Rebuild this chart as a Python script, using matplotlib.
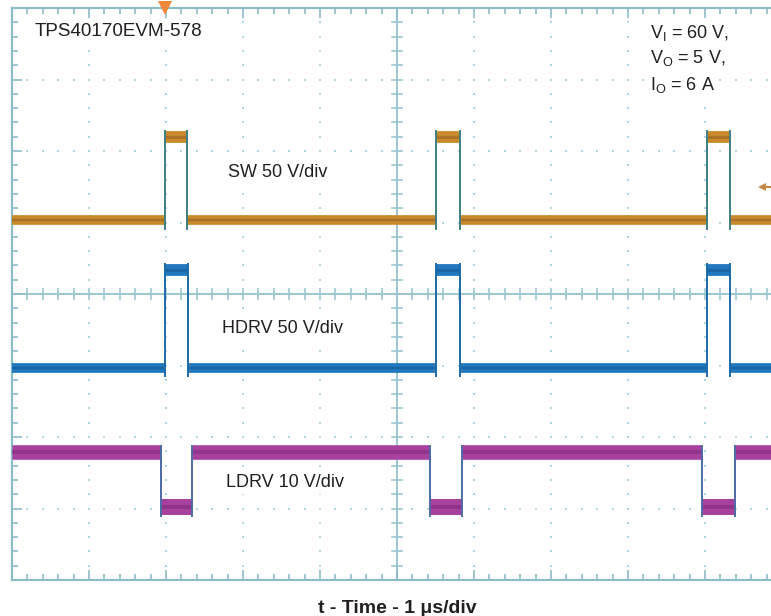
import matplotlib
matplotlib.use("Agg")
import matplotlib.pyplot as plt
import numpy as np
from matplotlib.ticker import MultipleLocator

plt.rcParams['font.family'] = ['Liberation Sans', 'DejaVu Sans']
plt.rcParams['mathtext.fontset'] = 'custom'
plt.rcParams['mathtext.rm'] = 'Liberation Sans'
plt.rcParams['mathtext.it'] = 'Liberation Sans'

# ---- data (time in µs = divisions, level in divisions) ----
sw_rise = [1.99, 5.51, 9.03]
sw_fall = [2.27, 5.82, 9.32]
sw_low, sw_high = 5.03, 6.20

hdrv_rise = [1.99, 5.51, 9.03]
hdrv_fall = [2.29, 5.82, 9.33]
hdrv_low, hdrv_high = 2.97, 4.34

ldrv_fall = [1.94, 5.43, 8.96]
ldrv_rise = [2.34, 5.84, 9.39]
ldrv_high, ldrv_low = 1.79, 1.02

trigger_time = 1.99
trigger_level = 5.50

title_text = "TPS40170EVM-578"
cond_lines = ["V$_\\mathrm{I}$ = 60 V,", "V$_\\mathrm{O}$ = 5 V,", "I$_\\mathrm{O}$ = 6 A"]
trace_labels = ["SW 50 V/div", "HDRV 50 V/div", "LDRV 10 V/div"]
xlabel_text = "t - Time - 1 μs/div"

fig = plt.figure(figsize=(7.71, 6.16), dpi=100)
ax = fig.add_axes([12/771, 36/616, 770/771, 572/616])
ax.set_xlim(0, 10)
ax.set_ylim(0, 8)

frame_c = '#8DBCC8'
for s in ax.spines.values():
    s.set_color(frame_c)
    s.set_linewidth(1.6)
ax.xaxis.set_major_locator(MultipleLocator(1))
ax.yaxis.set_major_locator(MultipleLocator(1))
ax.xaxis.set_minor_locator(MultipleLocator(0.2))
ax.yaxis.set_minor_locator(MultipleLocator(0.2))
ax.tick_params(which='both', direction='in', top=True, right=True, bottom=True, left=True,
               labelbottom=False, labelleft=False, color=frame_c, width=1.2)
ax.tick_params(which='major', length=7)
ax.tick_params(which='minor', length=4)

# dotted grid
sub = np.arange(0, 10.001, 0.2)
subv = np.arange(0, 8.001, 0.2)
grid_c = '#B0D5E6'
for gx in range(1, 10):
    if gx == 5:
        continue
    ax.plot(np.full_like(subv, gx), subv, ls='none', marker='s', ms=1.5, mew=0, color=grid_c, zorder=1)
for gy in range(1, 8):
    if gy == 4:
        continue
    ax.plot(sub, np.full_like(sub, gy), ls='none', marker='s', ms=1.5, mew=0, color=grid_c, zorder=1)

# center axes with cross ticks
axis_c = '#9BC6CF'
ax.axhline(4, color=axis_c, lw=1.4, zorder=1)
ax.axvline(5, color=axis_c, lw=1.4, zorder=1)
for tx in sub:
    ax.plot([tx, tx], [4 - 0.07, 4 + 0.07], color=axis_c, lw=1.2, zorder=1)
for ty in subv:
    ax.plot([5 - 0.065, 5 + 0.065], [ty, ty], color=axis_c, lw=1.2, zorder=1)


def draw_trace(starts, ends, idle, active, idle_lw, active_lw, color, dark, edge_c):
    bounds = [0.0] + [v for pair in zip(starts, ends) for v in pair] + [10.2]
    for i in range(0, len(bounds), 2):
        a, b = bounds[i], bounds[i + 1]
        ax.plot([a, b], [idle, idle], color=color, lw=idle_lw, solid_capstyle='butt', zorder=3)
        ax.plot([a, b], [idle, idle], color=dark, lw=idle_lw * 0.25, alpha=0.5, solid_capstyle='butt', zorder=3)
    for a, b in zip(starts, ends):
        ax.plot([a, b], [active, active], color=color, lw=active_lw, solid_capstyle='butt', zorder=3)
        ax.plot([a, b], [active, active], color=dark, lw=active_lw * 0.25, alpha=0.5, solid_capstyle='butt', zorder=3)
        lo, hi = min(idle, active), max(idle, active)
        for e in (a, b):
            ax.plot([e, e], [lo - 0.12, hi + 0.08], color=edge_c, lw=1.4, zorder=4)


draw_trace(sw_rise, sw_fall, sw_low, sw_high, 7.0, 8.5, '#C98A2C', '#8A5A1C', '#3F7E84')
draw_trace(hdrv_rise, hdrv_fall, hdrv_low, hdrv_high, 7.0, 8.5, '#2178BE', '#14548C', '#1C6AA8')
draw_trace(ldrv_fall, ldrv_rise, ldrv_high, ldrv_low, 10.5, 11.5, '#A8409E', '#7A2A78', '#4E6AA8')

# trigger markers
ax.plot([trigger_time], [8.0], marker='v', ms=10, color='#F0883A', mew=0, clip_on=False, zorder=6)
ax.plot([9.74, 9.9], [trigger_level, trigger_level], color='#C08848', lw=1.5, zorder=5)
ax.plot([9.74], [trigger_level], marker='<', ms=6, color='#C08848', mew=0, zorder=5)

# texts
bb = dict(facecolor='white', edgecolor='none', pad=2)
ax.text(0.30, 7.61, title_text, fontsize=13.6, color='#231F20', ha='left', va='baseline', bbox=bb, zorder=7)
for yv, s in zip([7.58, 7.23, 6.85], cond_lines):
    ax.text(8.29, yv, s, fontsize=13, color='#231F20', ha='left', va='baseline', bbox=bb, zorder=7)
for (xv, yv), s in zip([(2.81, 5.64), (2.73, 3.45), (2.78, 1.30)], trace_labels):
    ax.text(xv, yv, s, fontsize=13, color='#231F20', ha='left', va='baseline', bbox=bb, zorder=7)

fig.text(397/771, (616-613)/616, xlabel_text, fontsize=14, fontweight='bold', color='#231F20',
         ha='center', va='baseline')

fig.savefig('out.png', dpi=100, facecolor='white')
